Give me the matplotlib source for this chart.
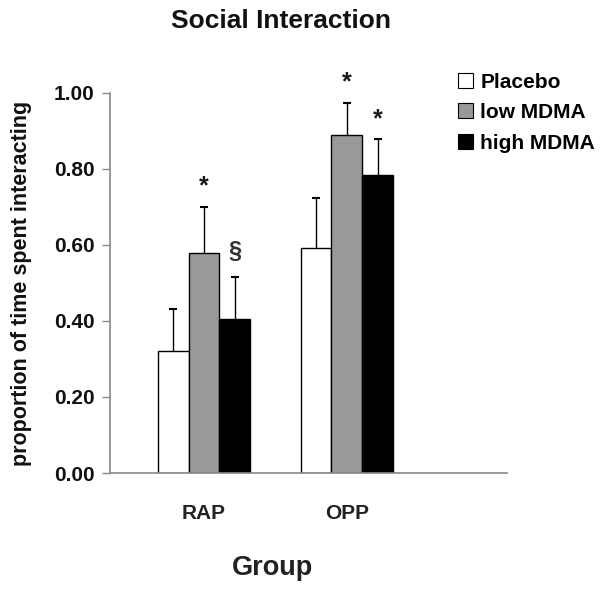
import numpy as np
import matplotlib
matplotlib.use('Agg')
import matplotlib.pyplot as plt
from matplotlib.patches import Patch

groups = ['RAP', 'OPP']
conditions = ['Placebo', 'low MDMA', 'high MDMA']
means = {
    'Placebo':   [0.322, 0.591],
    'low MDMA':  [0.578, 0.889],
    'high MDMA': [0.405, 0.784],
}
errors = {
    'Placebo':   [0.109, 0.132],
    'low MDMA':  [0.122, 0.085],
    'high MDMA': [0.112, 0.094],
}
marks = {
    'Placebo':   ['', ''],
    'low MDMA':  ['*', '*'],
    'high MDMA': ['§', '*'],
}
colors = ['white', '#999999', 'black']
yticks = [0.0, 0.2, 0.4, 0.6, 0.8, 1.0]

plt.rcParams['font.family'] = ['Liberation Sans', 'DejaVu Sans']
plt.rcParams['font.weight'] = 'bold'

fig = plt.figure(figsize=(6.06, 5.92), dpi=100)
ax = fig.add_axes([0.1815, 0.201, 0.655, 0.642])

x = np.arange(1, len(groups) + 1)
w = 0.215
for i, c in enumerate(conditions):
    xs = x + (i - 1) * w
    ax.bar(xs, means[c], width=w, color=colors[i], edgecolor='black',
           linewidth=1.0, zorder=2)
    eb = ax.errorbar(xs, means[c], yerr=[np.zeros(len(groups)), errors[c]],
                     fmt='none', ecolor='black', elinewidth=1.0, capsize=3,
                     capthick=1.5, zorder=1)
    eb[1][0].set_visible(False)  # only the upper cap
    for xi, m, e, s in zip(xs, means[c], errors[c], marks[c]):
        if s == '*':
            ax.annotate(s, (xi, m + e), xytext=(0, 9.5), textcoords='offset points',
                        ha='center', va='baseline', fontsize=18,
                        fontweight='bold', color='#1a1a1a')
        elif s:
            ax.annotate(s, (xi, m + e), xytext=(0, 13), textcoords='offset points',
                        ha='center', va='baseline', fontsize=17,
                        fontweight='bold', color='#333333')

ax.set_xlim(0.343, 3.12)
ax.set_ylim(0, 1.0)
ax.set_yticks(yticks)
ax.set_yticklabels(['%.2f' % v for v in yticks], fontsize=15, fontweight='bold',
                   color='#111111')
ax.set_xticks(x)
ax.set_xticklabels(groups, fontsize=15, fontweight='bold', color='#222222')
ax.tick_params(axis='x', length=0, pad=22)
ax.tick_params(axis='y', length=6, color='#888888', width=1, pad=5)

for side in ['top', 'right']:
    ax.spines[side].set_visible(False)
for side in ['left', 'bottom']:
    ax.spines[side].set_color('#888888')
    ax.spines[side].set_linewidth(1.2)

ax.set_ylabel('proportion of time spent interacting', fontsize=15.5,
              fontweight='bold', color='#111111', va='center')
ax.yaxis.set_label_coords(-0.224, 0.5)
ax.set_xlabel('Group', fontsize=19.5, fontweight='bold', color='#222222',
              va='center')
ax.xaxis.set_label_coords(0.41, -0.25)

fig.text(281 / 606, 1 - 21 / 592, 'Social Interaction', ha='center',
         va='center', fontsize=19, fontweight='bold', color='#111111')

handles = [Patch(facecolor=colors[i], edgecolor='black', linewidth=0.8)
           for i in range(len(conditions))]
fig.legend(handles, conditions, loc='upper left',
           bbox_to_anchor=(0.732, 0.902), frameon=False,
           handlelength=0.72, handleheight=0.72, handletextpad=0.34,
           labelspacing=0.55, borderpad=0.2,
           prop={'weight': 'bold', 'size': 15})

fig.savefig('out.png', dpi=100)
